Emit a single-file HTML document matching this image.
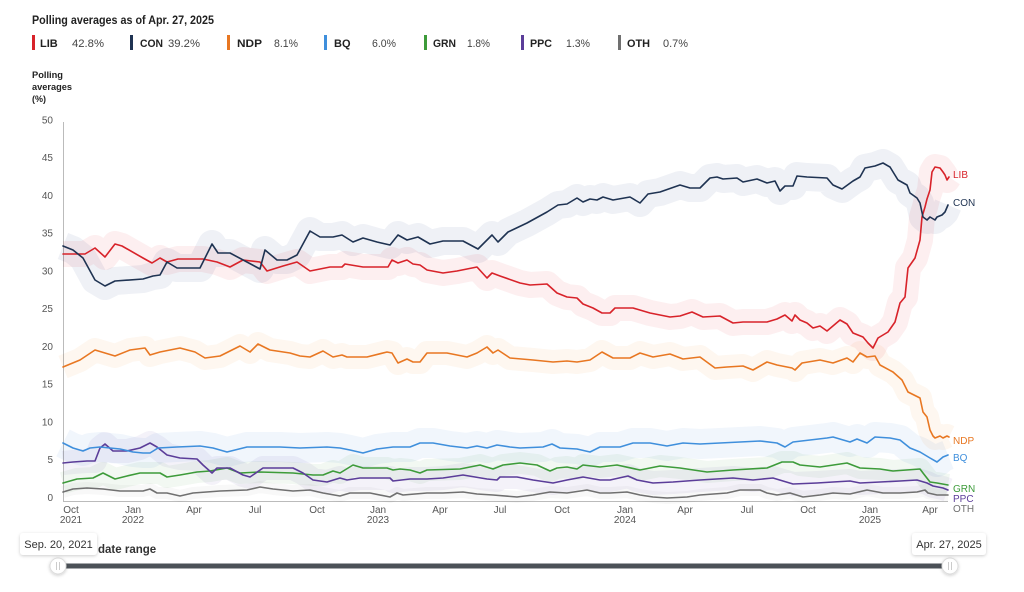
<!DOCTYPE html>
<html><head><meta charset="utf-8"><style>
html,body{margin:0;padding:0;background:#fff;}
svg{display:block;font-family:"Liberation Sans",Arial,sans-serif;}
.band{fill:none;stroke-linejoin:round;stroke-linecap:butt;mix-blend-mode:multiply;}
.ln{fill:none;stroke-width:1.6;stroke-linejoin:round;stroke-linecap:round;}
.tk{font-size:10px;fill:#555;}
</style></head><body>
<svg width="1024" height="592" viewBox="0 0 1024 592" xmlns="http://www.w3.org/2000/svg">
<defs>
<filter id="sh" x="-20%" y="-30%" width="140%" height="170%"><feDropShadow dx="0" dy="1" stdDeviation="1.5" flood-color="#000" flood-opacity="0.2"/></filter>
</defs>
<!-- Title -->
<text x="32" y="24" font-size="12" font-weight="bold" fill="#222" textLength="182" lengthAdjust="spacingAndGlyphs">Polling averages as of Apr. 27, 2025</text>
<!-- Legend -->
<g font-size="11">
<rect x="32" y="35" width="3" height="15" fill="#d8232a"/><text x="40" y="47" font-weight="bold" fill="#222">LIB</text><text x="72" y="47" fill="#444" textLength="32" lengthAdjust="spacingAndGlyphs">42.8%</text>
<rect x="130" y="35" width="3" height="15" fill="#1f3352"/><text x="140" y="47" font-weight="bold" fill="#222" textLength="23" lengthAdjust="spacingAndGlyphs">CON</text><text x="168" y="47" fill="#444" textLength="32" lengthAdjust="spacingAndGlyphs">39.2%</text>
<rect x="227" y="35" width="3" height="15" fill="#e87722"/><text x="237" y="47" font-weight="bold" fill="#222" textLength="25" lengthAdjust="spacingAndGlyphs">NDP</text><text x="274" y="47" fill="#444" textLength="24" lengthAdjust="spacingAndGlyphs">8.1%</text>
<rect x="324" y="35" width="3" height="15" fill="#3f8fdc"/><text x="334" y="47" font-weight="bold" fill="#222">BQ</text><text x="372" y="47" fill="#444" textLength="24" lengthAdjust="spacingAndGlyphs">6.0%</text>
<rect x="424" y="35" width="3" height="15" fill="#3d9b3a"/><text x="433" y="47" font-weight="bold" fill="#222" textLength="23" lengthAdjust="spacingAndGlyphs">GRN</text><text x="467" y="47" fill="#444" textLength="23" lengthAdjust="spacingAndGlyphs">1.8%</text>
<rect x="521" y="35" width="3" height="15" fill="#5b3d99"/><text x="530" y="47" font-weight="bold" fill="#222" textLength="22" lengthAdjust="spacingAndGlyphs">PPC</text><text x="566" y="47" fill="#444" textLength="24" lengthAdjust="spacingAndGlyphs">1.3%</text>
<rect x="618" y="35" width="3" height="15" fill="#707070"/><text x="627" y="47" font-weight="bold" fill="#222" textLength="23" lengthAdjust="spacingAndGlyphs">OTH</text><text x="663" y="47" fill="#444" textLength="25" lengthAdjust="spacingAndGlyphs">0.7%</text>
</g>
<!-- Y title -->
<g font-size="9.5" font-weight="bold" fill="#222">
<text x="32" y="78" textLength="31" lengthAdjust="spacingAndGlyphs">Polling</text>
<text x="32" y="90" textLength="40" lengthAdjust="spacingAndGlyphs">averages</text>
<text x="32" y="102" textLength="14" lengthAdjust="spacingAndGlyphs">(%)</text>
</g>
<!-- Y ticks -->
<g class="tk" text-anchor="end">
<text x="53" y="123.5">50</text>
<text x="53" y="161.2">45</text>
<text x="53" y="199">40</text>
<text x="53" y="236.7">35</text>
<text x="53" y="274.5">30</text>
<text x="53" y="312.2">25</text>
<text x="53" y="350">20</text>
<text x="53" y="387.7">15</text>
<text x="53" y="425.5">10</text>
<text x="53" y="463.2">5</text>
<text x="53" y="501">0</text>
</g>
<!-- axes -->
<line x1="63.5" y1="122" x2="63.5" y2="501" stroke="#bbb" stroke-width="1"/>
<line x1="63" y1="501.5" x2="948" y2="501.5" stroke="#bbb" stroke-width="1"/>
<!-- X ticks -->
<g class="tk" text-anchor="middle">
<text x="71" y="513">Oct</text><text x="71" y="523">2021</text>
<text x="133" y="513">Jan</text><text x="133" y="523">2022</text>
<text x="194" y="513">Apr</text>
<text x="255" y="513">Jul</text>
<text x="317" y="513">Oct</text>
<text x="378" y="513">Jan</text><text x="378" y="523">2023</text>
<text x="440" y="513">Apr</text>
<text x="500" y="513">Jul</text>
<text x="562" y="513">Oct</text>
<text x="625" y="513">Jan</text><text x="625" y="523">2024</text>
<text x="685" y="513">Apr</text>
<text x="747" y="513">Jul</text>
<text x="808" y="513">Oct</text>
<text x="870" y="513">Jan</text><text x="870" y="523">2025</text>
<text x="930" y="513">Apr</text>
</g>

<!-- Bands -->
<polyline class="band" stroke="#f8f8f8" stroke-width="12" points="63,492 73,489 87,488 103,489 120,491 143,491 150,489 157,493 167,493 180,496 193,493 220,491 247,490 260,487 273,489 293,491 310,490 323,493 340,496 350,493 370,493 390,497 397,493 403,495 427,493 443,493 463,492 477,494 493,495 517,497 533,495 550,492 567,493 587,490 600,493 610,493 627,492 640,495 653,497 667,498 687,497 700,495 727,493 740,490 760,490 767,493 777,495 790,493 803,497 820,495 833,493 850,494 867,490 883,493 900,493 917,492 925,490 928,493 937,495 948,495"/>
<polyline class="band" stroke="#f4f2f9" stroke-width="24" points="63,463 73,462 87,461 95,461 100,448 105,444 113,451 127,451 140,448 150,443 157,447 167,455 180,458 197,459 203,465 212,473 217,468 230,468 243,475 250,477 263,468 293,468 303,473 313,480 327,482 340,478 347,480 360,478 390,478 393,481 410,479 427,479 443,478 463,475 487,479 497,480 500,477 517,477 533,480 553,483 567,480 583,477 600,480 610,480 628,476 637,480 653,483 673,482 700,480 733,478 753,480 773,478 793,484 817,483 833,482 850,481 860,483 880,482 900,481 917,480 927,483 933,486 943,488 948,490"/>
<polyline class="band" stroke="#f2f8f2" stroke-width="22" points="63,483 77,479 93,478 103,473 115,479 127,476 140,473 160,473 167,477 180,475 197,472 210,471 227,468 240,473 260,472 293,473 313,475 323,475 333,471 340,473 353,465 363,468 387,468 393,470 400,469 410,470 420,473 427,470 460,469 480,465 493,469 503,465 520,463 537,465 550,471 557,468 567,467 577,469 583,465 600,467 617,465 640,470 660,466 680,468 707,472 733,470 767,468 782,462 793,462 800,465 820,467 847,463 860,468 880,469 893,471 920,469 923,473 930,482 937,483 948,485"/>
<polyline class="band" stroke="#f1f6fc" stroke-width="30" points="63,443 73,448 83,451 90,448 100,447 110,448 120,449 133,452 143,453 150,453 158,448 177,447 200,446 213,448 227,452 247,447 263,447 280,447 300,448 327,447 340,448 350,450 363,453 377,449 393,447 410,447 420,443 433,443 450,446 467,448 477,446 487,448 497,445 510,447 520,448 543,447 552,444 560,448 577,449 590,452 600,447 620,447 633,443 650,443 667,446 683,443 700,444 720,443 740,442 760,441 777,443 785,447 793,442 810,440 827,438 833,437 850,442 857,439 867,443 875,437 890,438 900,440 910,448 920,452 930,458 937,462 943,457 948,455"/>
<polyline class="band" stroke="#fef7f0" stroke-width="24" points="63,367 80,360 95,350 105,353 115,356 130,350 145,348 150,355 160,352 180,348 195,352 205,358 220,356 240,346 250,352 258,344 270,350 290,353 300,356 310,357 323,351 333,357 342,355 347,357 367,357 387,352 392,353 398,363 407,359 413,362 420,362 427,353 447,353 467,357 477,353 487,347 493,353 498,350 510,358 533,360 553,362 567,361 577,362 590,360 602,352 613,358 630,358 640,353 653,357 670,354 683,359 700,357 715,368 727,367 743,366 753,370 767,362 777,365 792,368 795,370 802,363 820,360 833,363 847,358 853,362 860,353 867,357 875,356 880,365 893,372 902,380 908,392 920,398 923,412 927,417 930,430 933,436 935,438 940,436 943,438 947,436 949,437"/>
<polyline class="band" stroke="#fdeff0" stroke-width="26" points="63,254 85,254 95,248 105,257 115,244 122,246 143,258 152,263 160,258 167,262 178,259 203,259 217,262 230,267 243,260 260,262 267,271 283,266 297,262 310,271 330,267 342,267 345,264 363,267 388,267 392,260 398,263 407,260 413,264 420,265 427,270 443,273 457,271 477,267 487,278 492,273 500,276 520,283 530,285 547,284 557,293 567,297 577,298 583,304 593,308 602,313 610,313 615,308 633,308 650,313 670,317 680,316 692,312 703,317 720,316 733,323 743,322 767,322 777,319 785,315 792,321 795,315 800,320 807,323 813,328 820,326 827,331 840,320 847,324 853,333 863,337 868,343 873,348 878,338 888,332 895,322 900,303 905,297 908,268 915,258 920,240 922,217 925,207 927,199 930,190 932,172 935,167 940,168 943,172 945,175 947,180 949,177"/>
<polyline class="band" stroke="#eff1f6" stroke-width="28" points="63,246 73,250 83,258 95,280 105,286 115,281 143,279 153,276 160,275 167,262 177,268 200,268 212,244 218,253 230,253 260,269 265,250 277,260 287,260 297,255 310,231 320,237 333,237 342,235 353,242 363,238 377,242 390,245 398,235 407,240 418,237 430,244 443,241 463,241 478,249 492,235 498,242 508,232 527,223 547,212 558,205 567,204 577,198 583,202 590,199 597,200 603,197 613,200 630,197 640,203 648,194 660,192 680,185 690,188 700,188 710,178 717,177 723,179 737,178 743,182 757,179 767,183 775,181 780,191 785,186 793,186 797,176 807,177 827,178 833,185 842,189 853,181 860,177 865,168 875,166 883,163 890,167 898,180 907,185 910,193 917,198 920,203 923,217 927,220 930,217 935,220 937,217 942,215 945,212 948,205"/>

<!-- Lines -->
<polyline class="ln" stroke="#707070" points="63,492 73,489 87,488 103,489 120,491 143,491 150,489 157,493 167,493 180,496 193,493 220,491 247,490 260,487 273,489 293,491 310,490 323,493 340,496 350,493 370,493 390,497 397,493 403,495 427,493 443,493 463,492 477,494 493,495 517,497 533,495 550,492 567,493 587,490 600,493 610,493 627,492 640,495 653,497 667,498 687,497 700,495 727,493 740,490 760,490 767,493 777,495 790,493 803,497 820,495 833,493 850,494 867,490 883,493 900,493 917,492 925,490 928,493 937,495 948,495"/>
<polyline class="ln" stroke="#3d9b3a" points="63,483 77,479 93,478 103,473 115,479 127,476 140,473 160,473 167,477 180,475 197,472 210,471 227,468 240,473 260,472 293,473 313,475 323,475 333,471 340,473 353,465 363,468 387,468 393,470 400,469 410,470 420,473 427,470 460,469 480,465 493,469 503,465 520,463 537,465 550,471 557,468 567,467 577,469 583,465 600,467 617,465 640,470 660,466 680,468 707,472 733,470 767,468 782,462 793,462 800,465 820,467 847,463 860,468 880,469 893,471 920,469 923,473 930,482 937,483 948,485"/>
<polyline class="ln" stroke="#5b3d99" points="63,463 73,462 87,461 95,461 100,448 105,444 113,451 127,451 140,448 150,443 157,447 167,455 180,458 197,459 203,465 212,473 217,468 230,468 243,475 250,477 263,468 293,468 303,473 313,480 327,482 340,478 347,480 360,478 390,478 393,481 410,479 427,479 443,478 463,475 487,479 497,480 500,477 517,477 533,480 553,483 567,480 583,477 600,480 610,480 628,476 637,480 653,483 673,482 700,480 733,478 753,480 773,478 793,484 817,483 833,482 850,481 860,483 880,482 900,481 917,480 927,483 933,486 943,488 948,490"/>
<polyline class="ln" stroke="#3f8fdc" points="63,443 73,448 83,451 90,448 100,447 110,448 120,449 133,452 143,453 150,453 158,448 177,447 200,446 213,448 227,452 247,447 263,447 280,447 300,448 327,447 340,448 350,450 363,453 377,449 393,447 410,447 420,443 433,443 450,446 467,448 477,446 487,448 497,445 510,447 520,448 543,447 552,444 560,448 577,449 590,452 600,447 620,447 633,443 650,443 667,446 683,443 700,444 720,443 740,442 760,441 777,443 785,447 793,442 810,440 827,438 833,437 850,442 857,439 867,443 875,437 890,438 900,440 910,448 920,452 930,458 937,462 943,457 948,455"/>
<polyline class="ln" stroke="#e87722" points="63,367 80,360 95,350 105,353 115,356 130,350 145,348 150,355 160,352 180,348 195,352 205,358 220,356 240,346 250,352 258,344 270,350 290,353 300,356 310,357 323,351 333,357 342,355 347,357 367,357 387,352 392,353 398,363 407,359 413,362 420,362 427,353 447,353 467,357 477,353 487,347 493,353 498,350 510,358 533,360 553,362 567,361 577,362 590,360 602,352 613,358 630,358 640,353 653,357 670,354 683,359 700,357 715,368 727,367 743,366 753,370 767,362 777,365 792,368 795,370 802,363 820,360 833,363 847,358 853,362 860,353 867,357 875,356 880,365 893,372 902,380 908,392 920,398 923,412 927,417 930,430 933,436 935,438 940,436 943,438 947,436 949,437"/>
<polyline class="ln" stroke="#d8232a" points="63,254 85,254 95,248 105,257 115,244 122,246 143,258 152,263 160,258 167,262 178,259 203,259 217,262 230,267 243,260 260,262 267,271 283,266 297,262 310,271 330,267 342,267 345,264 363,267 388,267 392,260 398,263 407,260 413,264 420,265 427,270 443,273 457,271 477,267 487,278 492,273 500,276 520,283 530,285 547,284 557,293 567,297 577,298 583,304 593,308 602,313 610,313 615,308 633,308 650,313 670,317 680,316 692,312 703,317 720,316 733,323 743,322 767,322 777,319 785,315 792,321 795,315 800,320 807,323 813,328 820,326 827,331 840,320 847,324 853,333 863,337 868,343 873,348 878,338 888,332 895,322 900,303 905,297 908,268 915,258 920,240 922,217 925,207 927,199 930,190 932,172 935,167 940,168 943,172 945,175 947,180 949,177"/>
<polyline class="ln" stroke="#1f3352" points="63,246 73,250 83,258 95,280 105,286 115,281 143,279 153,276 160,275 167,262 177,268 200,268 212,244 218,253 230,253 260,269 265,250 277,260 287,260 297,255 310,231 320,237 333,237 342,235 353,242 363,238 377,242 390,245 398,235 407,240 418,237 430,244 443,241 463,241 478,249 492,235 498,242 508,232 527,223 547,212 558,205 567,204 577,198 583,202 590,199 597,200 603,197 613,200 630,197 640,203 648,194 660,192 680,185 690,188 700,188 710,178 717,177 723,179 737,178 743,182 757,179 767,183 775,181 780,191 785,186 793,186 797,176 807,177 827,178 833,185 842,189 853,181 860,177 865,168 875,166 883,163 890,167 898,180 907,185 910,193 917,198 920,203 923,217 927,220 930,217 935,220 937,217 942,215 945,212 948,205"/>

<!-- End labels -->
<g font-size="10">
<text x="953" y="178" fill="#d8232a">LIB</text>
<text x="953" y="206" fill="#1f3352">CON</text>
<text x="953" y="444" fill="#e87722">NDP</text>
<text x="953" y="461" fill="#3f8fdc">BQ</text>
<text x="953" y="492" fill="#3d9b3a">GRN</text>
<text x="953" y="502" fill="#5b3d99">PPC</text>
<text x="953" y="512" fill="#707070">OTH</text>
</g>

<!-- Slider -->
<text x="98" y="553" font-size="11.5" font-weight="bold" fill="#333">date range</text>
<rect x="58" y="563.5" width="892" height="5" fill="#4b5157"/>
<g filter="url(#sh)">
<circle cx="58" cy="566" r="8" fill="#fff" stroke="#ddd"/>
<circle cx="950" cy="566" r="8" fill="#fff" stroke="#ddd"/>
</g>
<line x1="56.5" y1="562" x2="56.5" y2="570" stroke="#ccc" stroke-width="1"/>
<line x1="59.5" y1="562" x2="59.5" y2="570" stroke="#ccc" stroke-width="1"/>
<line x1="948.5" y1="562" x2="948.5" y2="570" stroke="#ccc" stroke-width="1"/>
<line x1="951.5" y1="562" x2="951.5" y2="570" stroke="#ccc" stroke-width="1"/>
<g filter="url(#sh)">
<rect x="20" y="533" width="77" height="22" rx="3" fill="#fff"/>
<rect x="912" y="533" width="74" height="22" rx="3" fill="#fff"/>
</g>
<text x="58.5" y="548" font-size="11" fill="#333" text-anchor="middle">Sep. 20, 2021</text>
<text x="949" y="548" font-size="11" fill="#333" text-anchor="middle">Apr. 27, 2025</text>
</svg>
</body></html>
